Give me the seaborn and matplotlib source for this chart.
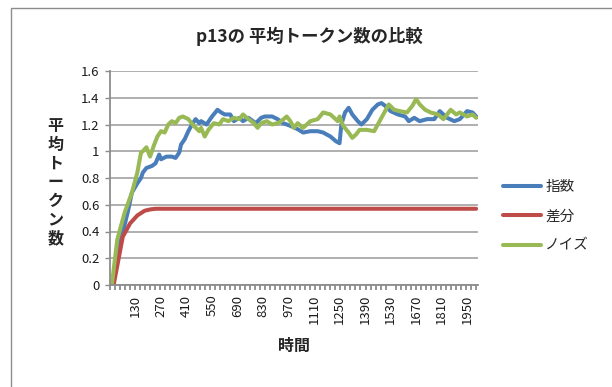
import numpy as np
import pandas as pd
import matplotlib
matplotlib.use("Agg")
import matplotlib.pyplot as plt
from matplotlib.ticker import FixedLocator, NullFormatter
from matplotlib.patches import Rectangle
import seaborn as sns

# 指数 (exponential) series
exp_t = [0, 40, 60, 90, 110, 140, 160, 170, 190, 220, 240, 260, 270, 300, 330, 350,
         370, 380, 400, 420, 440, 460, 480, 490, 520, 550, 580, 600, 620, 650, 670,
         700, 720, 750, 790, 820, 840, 880, 910, 940, 980, 1020, 1050, 1090, 1130,
         1160, 1200, 1230, 1250, 1260, 1280, 1300, 1320, 1350, 1370, 1400, 1430,
         1460, 1480, 1500, 1530, 1570, 1610, 1630, 1660, 1690, 1730, 1770, 1800,
         1840, 1880, 1910, 1950, 1980, 2000]
exp_v = [0, 0.29, 0.39, 0.56, 0.69, 0.76, 0.80, 0.84, 0.875, 0.89, 0.91, 0.975, 0.94,
         0.96, 0.96, 0.95, 0.99, 1.05, 1.09, 1.15, 1.20, 1.24, 1.21, 1.225, 1.20, 1.26,
         1.31, 1.29, 1.275, 1.275, 1.225, 1.25, 1.225, 1.25, 1.21, 1.25, 1.26, 1.26,
         1.24, 1.21, 1.19, 1.165, 1.14, 1.15, 1.15, 1.14, 1.11, 1.075, 1.06, 1.20,
         1.29, 1.325, 1.275, 1.225, 1.20, 1.24, 1.31, 1.35, 1.36, 1.34, 1.30, 1.275,
         1.26, 1.225, 1.25, 1.225, 1.24, 1.24, 1.30, 1.25, 1.225, 1.24, 1.30, 1.29, 1.26]

# 差分 (difference) series
diff_t = [0, 10, 60, 100, 140, 180, 210, 240, 2000]
diff_v = [0, 0, 0.36, 0.46, 0.52, 0.555, 0.565, 0.57, 0.57]

# ノイズ (noise) series
noise_t = [0, 30, 70, 110, 140, 160, 170, 190, 210, 230, 250, 270, 290, 310, 330, 350,
           370, 390, 420, 450, 480, 490, 510, 530, 560, 590, 610, 640, 670, 700, 720,
           750, 780, 800, 820, 850, 880, 910, 930, 960, 980, 1000, 1020, 1050, 1090,
           1130, 1160, 1200, 1240, 1250, 1270, 1300, 1320, 1340, 1360, 1400, 1440,
           1460, 1490, 1520, 1550, 1580, 1620, 1650, 1670, 1690, 1720, 1750, 1790,
           1820, 1860, 1890, 1910, 1950, 1980, 2000]
noise_v = [0, 0.34, 0.54, 0.69, 0.84, 0.99, 1.00, 1.03, 0.96, 1.04, 1.11, 1.15, 1.14,
           1.20, 1.225, 1.21, 1.25, 1.26, 1.24, 1.19, 1.15, 1.175, 1.11, 1.16, 1.21,
           1.20, 1.24, 1.225, 1.25, 1.24, 1.275, 1.24, 1.21, 1.175, 1.21, 1.225, 1.20,
           1.21, 1.225, 1.26, 1.225, 1.175, 1.21, 1.175, 1.225, 1.24, 1.29, 1.275,
           1.225, 1.26, 1.19, 1.14, 1.10, 1.125, 1.16, 1.16, 1.15, 1.20, 1.275, 1.35,
           1.31, 1.30, 1.29, 1.34, 1.39, 1.35, 1.31, 1.29, 1.275, 1.24, 1.31, 1.275,
           1.29, 1.26, 1.275, 1.25]

series_names = ["指数", "差分", "ノイズ"]
series_colors = ["#4A7EBB", "#BE4B48", "#98B954"]
x_tick_labels = [130, 270, 410, 550, 690, 830, 970, 1110, 1250, 1390, 1530,
                 1670, 1810, 1950]
y_ticks = [0, 0.2, 0.4, 0.6, 0.8, 1, 1.2, 1.4, 1.6]

df = pd.concat([
    pd.DataFrame({"時間": exp_t, "値": exp_v, "系列": series_names[0]}),
    pd.DataFrame({"時間": diff_t, "値": diff_v, "系列": series_names[1]}),
    pd.DataFrame({"時間": noise_t, "値": noise_v, "系列": series_names[2]}),
], ignore_index=True)

sns.set_theme(style="white")
plt.rcParams["font.family"] = ["Noto Sans CJK JP", "DejaVu Sans"]

W, H = 612, 387
fig = plt.figure(figsize=(W / 100, H / 100), dpi=100)
ax = fig.add_axes([110 / W, 1 - 285 / H, (478 - 110) / W, (285 - 71) / H])

# chart frame
fig.patches.append(Rectangle((11 / W, -0.05), 1.2, 1.05 - 8 / H,
                             transform=fig.transFigure, fill=False,
                             edgecolor="#8c8c8c", linewidth=1.0, zorder=0))

palette = dict(zip(series_names, series_colors))
sns.lineplot(data=df, x="時間", y="値", hue="系列", palette=palette,
             hue_order=series_names, sort=False, estimator=None,
             linewidth=2.9, ax=ax, legend=False)

grid_c = "#9a9a9a"
ax.set_xlim(-10, 2010)
ax.set_ylim(0, 1.6)
ax.set_yticks(y_ticks)
ax.set_yticklabels(["0", "0.2", "0.4", "0.6", "0.8", "1", "1.2", "1.4", "1.6"],
                   fontsize=9.5, color="#1a1a1a")
ax.yaxis.grid(True, color=grid_c, linewidth=1.1)
ax.xaxis.grid(False)
ax.set_axisbelow(True)

ax.set_xticks(x_tick_labels)
ax.set_xticklabels([str(v) for v in x_tick_labels], rotation=90, fontsize=9.5,
                   color="#1a1a1a", va="top", ha="center")
ax.xaxis.set_minor_locator(FixedLocator(np.arange(-10, 2011, 27.5)))
ax.xaxis.set_minor_formatter(NullFormatter())
ax.tick_params(axis="x", which="major", length=0, pad=7)
ax.tick_params(axis="x", which="minor", length=3.5, width=1.3, color="#8c8c8c",
               direction="out", bottom=True)
ax.tick_params(axis="y", which="major", length=3.5, width=1.0, color="#8c8c8c",
               direction="out", left=True, pad=4)

for side in ["top", "right"]:
    ax.spines[side].set_visible(False)
for side in ["left", "bottom"]:
    ax.spines[side].set_color("#8c8c8c")
    ax.spines[side].set_linewidth(1.3)

ax.set_xlabel("時間", fontsize=11.5, fontweight="bold", labelpad=10)
ax.set_ylabel("\n".join("平均トークン数"), rotation=0, fontsize=11.5,
              fontweight="bold", linespacing=1.2, va="center", ha="center",
              labelpad=20)
ax.yaxis.set_label_coords(-0.148, 0.48)

fig.text(309 / W, 1 - 36 / H, "p13の 平均トークン数の比較", fontsize=12.5,
         fontweight="bold", ha="center", va="center")

handles = [plt.Line2D([], [], color=c, linewidth=2.9) for c in series_colors]
fig.legend(handles, series_names, loc="upper left",
           bbox_to_anchor=(490 / W, 1 - 167 / H), frameon=False, fontsize=10.5,
           handlelength=2.6, handletextpad=0.3, labelspacing=1.05)

fig.savefig("out.png", dpi=100)
